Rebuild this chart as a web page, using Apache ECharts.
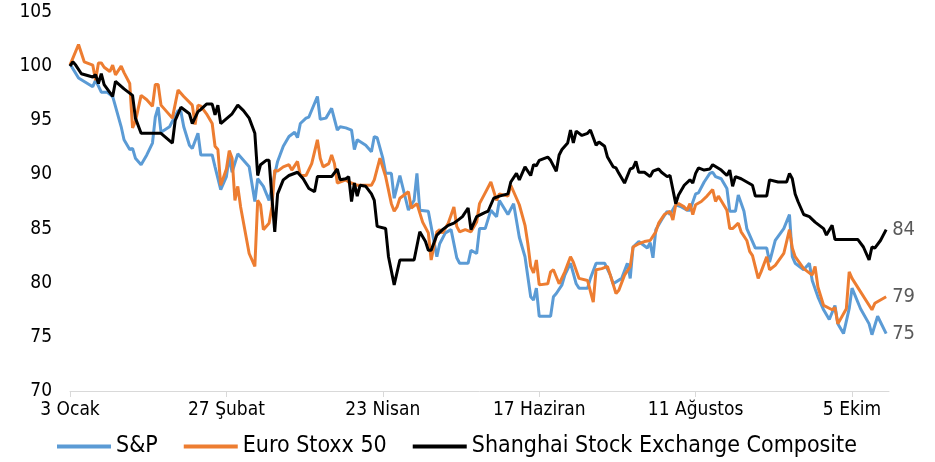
<!DOCTYPE html>
<html>
<head>
<meta charset="utf-8">
<script src="https://cdn.jsdelivr.net/npm/echarts@6/dist/echarts.min.js"></script>
<style>
    html, body { margin: 0; padding: 0; background: #fff; }
    #chart { width: 935px; height: 462px; }
</style>
</head>
<body>
<div id="chart"></div>
<script>
    // x ekseni: 3 Ocak'tan itibaren geçen gün sayısı
    const tickDays = [0, 55, 110, 165, 220, 275]
    const tickLabels = ['3 Ocak', '27 Şubat', '23 Nisan', '17 Haziran', '11 Ağustos', '5 Ekim']
    const seriesNames = ['S&P', 'Euro Stoxx 50', 'Shanghai Stock Exchange Composite']
    const endTexts = ['75', '79', '84']

    const spDays = [0,3,8,9,11,13,15,18,19,21,22,23,25,27,29,30,31,32,35,38,39,40,42,43,45,46,50,51,53,55,56,57,59,61,63,65,66,68,70,73,75,77,79,80,81,83,84,87,88,90,92,94,95,97,99,100,101,104,106,107,108,110,111,113,114,116,119,120,121,122,123,126,129,130,132,134,136,137,140,141,143,144,146,148,150,151,154,156,158,160,162,163,164,165,169,170,171,173,174,176,178,179,182,183,185,188,190,191,194,196,197,198,200,203,204,205,206,208,210,211,213,215,217,218,220,221,223,225,226,227,229,231,232,234,235,237,238,241,245,246,248,251,253,254,255,258,260,261,263,265,267,269,270,272,274,275,278,281,282,284,287]
    const spValues = [100.2,98.9,98.1,98.7,97.6,97.6,97.2,94.4,93.2,92.3,92.4,91.5,90.9,91.8,92.9,95.3,96.2,93.9,94.4,95.9,95.8,94.4,92.7,92.4,93.8,91.8,91.8,90.7,88.6,89.8,91.6,90.2,91.9,91.3,90.7,87.5,89.6,88.9,87.6,91.2,92.6,93.5,93.9,93.4,94.7,95.2,95.3,97.2,95.1,95.2,96.1,94.1,94.4,94.3,94.1,92.3,93.2,92.7,92.1,93.5,93.4,91.5,90.1,90.1,87.8,89.9,86.7,87.2,87.6,90.1,86.7,86.6,82.4,83.6,84.6,84.9,82.3,81.8,81.8,83.0,82.7,85.0,85.0,86.7,86.1,87.6,86.3,87.3,84.2,82.4,78.7,78.4,79.5,76.9,76.9,78.7,79.0,79.8,80.7,81.8,79.9,79.5,79.5,80.4,81.8,81.8,80.7,79.9,80.4,81.8,80.4,83.3,83.8,83.2,83.7,82.3,84.9,85.8,86.6,86.3,87.2,87.0,86.7,86.7,88.2,88.3,89.3,90.1,90.2,89.8,89.6,88.7,86.6,86.6,88.1,86.6,85.0,83.2,83.2,81.9,83.9,85.0,86.3,82.4,81.8,81.2,81.8,80.2,78.7,77.5,76.6,77.9,76.2,75.3,77.6,79.5,77.6,76.2,75.2,76.9,75.3]

    const euroDays = [0,3,5,8,9,10,11,12,14,15,16,18,19,21,22,23,25,27,29,30,31,32,34,36,38,40,43,44,45,46,48,50,51,52,53,55,56,57,58,59,60,63,65,66,67,68,70,71,72,73,75,77,78,80,81,83,85,87,88,89,91,92,93,94,97,98,101,106,107,109,111,113,114,115,116,119,120,122,124,126,127,129,130,131,133,135,136,137,139,141,143,144,146,148,150,151,154,155,158,160,161,162,163,164,165,168,169,170,172,174,176,177,179,182,184,185,187,189,190,192,193,195,197,198,200,202,204,206,207,209,211,212,213,214,216,217,218,219,220,222,224,226,227,228,231,232,233,235,236,238,239,240,242,243,245,246,248,251,253,254,255,258,261,262,263,265,268,269,270,273,274,275,282,283,287]
    const euroValues = [100.1,102.0,100.4,100.1,98.7,100.3,100.3,99.9,99.5,100.1,99.2,100.0,99.4,98.4,94.3,94.9,97.3,96.9,96.3,98.3,98.3,96.4,95.8,95.2,97.8,97.2,96.4,94.6,96.4,96.3,95.6,94.7,92.6,92.3,89.0,90.5,92.2,91.5,87.6,88.9,87.0,82.7,81.5,87.6,87.2,84.9,85.5,87.0,90.4,90.3,90.7,90.9,90.4,91.2,89.9,89.9,91.0,93.2,91.5,90.7,91.0,91.8,91.0,89.2,89.5,89.3,89.0,89.0,89.5,91.5,89.8,87.3,86.6,87.0,87.8,88.4,86.9,87.3,85.6,84.6,82.1,84.7,84.9,84.6,85.5,87.0,85.2,84.7,84.9,84.7,85.6,87.3,88.3,89.3,87.6,88.2,88.0,89.0,87.2,85.3,83.6,81.5,80.9,82.1,79.8,79.9,81.0,81.2,79.9,81.0,82.4,81.9,80.4,80.2,78.2,81.2,81.3,81.5,80.7,79.0,79.3,80.7,81.5,83.3,83.6,83.8,83.9,84.7,85.5,86.3,86.6,85.8,87.2,87.3,87.0,86.7,87.3,86.3,87.2,87.5,88.0,88.6,87.5,88.0,86.7,85.0,85.0,85.5,84.7,83.9,82.9,82.5,80.4,81.0,82.4,81.2,81.6,82.7,84.9,83.2,82.4,81.3,80.7,81.5,79.6,77.9,77.5,77.7,76.2,77.6,81.0,80.4,77.5,78.1,78.7]

    const shDays = [0,1,2,4,8,9,10,11,12,15,16,19,22,23,25,32,36,37,39,42,43,45,46,48,50,51,52,53,57,59,61,63,65,66,67,69,70,71,72,73,75,77,80,82,84,86,87,92,94,95,97,98,99,100,101,102,104,106,107,108,111,112,114,116,121,123,125,126,127,129,131,133,135,137,138,140,141,143,146,147,149,151,154,155,157,158,160,162,163,164,165,168,169,171,172,173,175,176,177,178,180,182,183,185,186,188,189,191,192,193,195,197,198,199,200,202,204,205,207,208,210,211,213,214,216,218,219,220,221,223,225,226,229,231,232,233,234,236,238,240,241,245,246,249,252,253,254,255,256,258,260,262,265,266,268,269,277,279,281,282,283,285,287]
    const shValues = [100.0,100.4,100.1,99.3,99.0,99.2,98.4,99.3,98.3,97.2,98.6,97.9,97.3,95.2,93.8,93.8,92.9,95.0,96.2,95.6,94.7,95.8,96.0,96.5,96.5,95.5,96.4,94.7,95.6,96.4,95.9,95.2,93.8,89.9,90.9,91.3,91.3,87.9,84.7,88.2,89.5,89.9,90.2,89.6,88.7,88.4,89.8,89.8,90.5,89.5,89.6,89.8,87.5,89.2,88.0,89.0,88.9,88.2,87.6,85.2,85.0,82.4,79.8,82.1,82.1,84.7,83.8,83.0,83.0,84.4,84.9,85.3,85.5,85.9,86.1,86.9,84.9,86.1,86.5,86.6,87.8,88.0,88.2,89.3,90.1,89.5,90.7,89.9,90.9,90.8,91.3,91.6,91.3,90.3,91.8,92.3,92.9,94.1,92.9,94.0,93.6,93.8,94.1,92.7,93.0,92.6,91.6,90.7,90.6,90.1,89.2,90.5,90.6,91.2,90.2,90.2,89.8,90.3,90.5,90.2,89.8,89.9,87.3,88.1,89.0,89.5,89.2,90.1,90.6,90.4,90.5,90.9,90.4,89.9,90.4,88.9,89.8,89.6,89.3,89.0,88.0,88.0,89.5,89.3,89.3,90.1,89.6,88.2,87.5,86.3,86.1,85.6,85.0,84.4,85.3,84.0,84.0,83.3,82.1,83.3,83.2,83.9,84.9]

    const FONT = "'DejaVu Sans Condensed', 'DejaVu Sans', sans-serif"
    const colors = ['#5b9bd5', '#ed7d31', '#000000']
    const allDays = [spDays, euroDays, shDays]
    const allValues = [spValues, euroValues, shValues]

    let myChart = echarts.init(document.getElementById('chart'))

    let series = seriesNames.map((name, i) => ({
        name: name,
        type: 'line',
        data: allDays[i].map((d, k) => [d, allValues[i][k]]),
        showSymbol: false,
        symbol: 'none',
        color: colors[i],
        lineStyle: {width: 3, color: colors[i]},
        endLabel: {
            show: true,
            formatter: endTexts[i],
            color: '#595959',
            fontSize: 20,
            fontFamily: FONT,
            distance: 6
        }
    }))

    myChart.setOption({
        animation: false,
        grid: {
            left: 70,
            right: 46,
            top: 12,
            bottom: 71
        },
        legend: {
            data: seriesNames,
            left: 52,
            top: 430,
            icon: 'rect',
            itemWidth: 54,
            itemHeight: 4,
            itemGap: 26,
            textStyle: {
                fontSize: 23,
                fontFamily: FONT,
                color: '#000'
            }
        },
        xAxis: {
            type: 'value',
            min: 0,
            max: 288,
            splitLine: {show: false},
            axisLine: {
                lineStyle: {color: '#d9d9d9', width: 1}
            },
            axisTick: {
                show: true,
                customValues: tickDays,
                length: 6,
                lineStyle: {color: '#d9d9d9'}
            },
            axisLabel: {
                customValues: tickDays,
                formatter: v => tickLabels[tickDays.indexOf(v)] || '',
                fontSize: 19,
                fontFamily: FONT,
                color: '#000',
                margin: 10
            }
        },
        yAxis: {
            type: 'value',
            min: 70,
            max: 105,
            interval: 5,
            splitLine: {show: false},
            axisLine: {show: false},
            axisTick: {show: false},
            axisLabel: {
                fontSize: 19,
                fontFamily: FONT,
                color: '#000',
                margin: 18
            }
        },
        series: series
    })
</script>
</body>
</html>
